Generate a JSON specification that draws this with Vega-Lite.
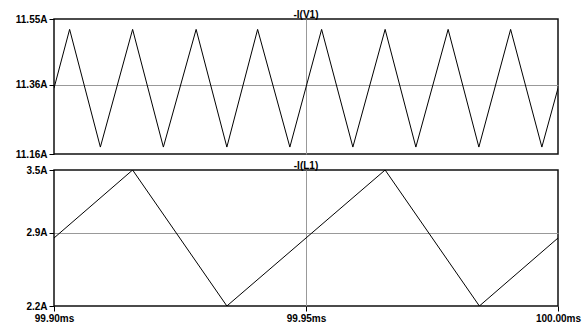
{
  "$schema": "https://vega.github.io/schema/vega-lite/v6.json",
  "background": "white",
  "padding": {"left": 14, "top": 9, "right": 5, "bottom": 0},
  "spacing": 0,
  "config": {
    "view": {"stroke": "#111", "strokeWidth": 1.5},
    "font": "Liberation Sans",
    "axis": {
      "labelFont": "Liberation Sans",
      "labelFontWeight": "bold",
      "labelFontSize": 10,
      "labelColor": "#000",
      "tickColor": "#000",
      "tickSize": 5,
      "domain": false,
      "title": null,
      "gridColor": "#999",
      "gridWidth": 1
    },
    "title": {"font": "Liberation Sans", "fontSize": 10, "fontWeight": "bold", "color": "#000", "anchor": "middle", "offset": -6}
  },
  "datasets": {
    "v1": [
      {"t": 99.9000, "i": 11.35},
      {"t": 99.9031, "i": 11.52},
      {"t": 99.9092, "i": 11.18},
      {"t": 99.9156, "i": 11.52},
      {"t": 99.9217, "i": 11.18},
      {"t": 99.9282, "i": 11.52},
      {"t": 99.9343, "i": 11.18},
      {"t": 99.9404, "i": 11.52},
      {"t": 99.9468, "i": 11.18},
      {"t": 99.9531, "i": 11.52},
      {"t": 99.9593, "i": 11.18},
      {"t": 99.9657, "i": 11.52},
      {"t": 99.9718, "i": 11.18},
      {"t": 99.9782, "i": 11.52},
      {"t": 99.9843, "i": 11.18},
      {"t": 99.9906, "i": 11.52},
      {"t": 99.9968, "i": 11.18},
      {"t": 100.0000, "i": 11.35}
    ],
    "l1": [
      {"t": 99.9000, "i": 2.85},
      {"t": 99.9156, "i": 3.5},
      {"t": 99.9343, "i": 2.2},
      {"t": 99.9657, "i": 3.5},
      {"t": 99.9844, "i": 2.2},
      {"t": 100.0000, "i": 2.85}
    ]
  },
  "vconcat": [
    {
      "width": 504,
      "height": 135,
      "title": "-I(V1)",
      "data": {"name": "v1"},
      "mark": {"type": "line", "color": "#000", "strokeWidth": 1, "clip": true},
      "encoding": {
        "x": {
          "field": "t", "type": "quantitative",
          "scale": {"domain": [99.9, 100.0], "nice": false, "zero": false},
          "axis": {"values": [99.95], "labels": false, "ticks": false, "grid": true, "orient": "bottom", "minExtent": 0, "maxExtent": 0}
        },
        "y": {
          "field": "i", "type": "quantitative",
          "scale": {"domain": [11.16, 11.55], "nice": false, "zero": false},
          "axis": {
            "values": [11.16, 11.36, 11.55],
            "labelExpr": "format(datum.value, '.2f') + 'A'",
            "grid": true,
            "gridOpacity": {"condition": {"test": "abs(datum.value - 11.36) < 0.001", "value": 1}, "value": 0}
          }
        }
      }
    },
    {
      "width": 504,
      "height": 136,
      "title": "-I(L1)",
      "data": {"name": "l1"},
      "mark": {"type": "line", "color": "#000", "strokeWidth": 1, "clip": true},
      "encoding": {
        "x": {
          "field": "t", "type": "quantitative",
          "scale": {"domain": [99.9, 100.0], "nice": false, "zero": false},
          "axis": {
            "values": [99.9, 99.95, 100.0],
            "labelExpr": "format(datum.value, '.2f') + 'ms'",
            "labelFlush": false,
            "labelPadding": 2,
            "grid": true,
            "gridOpacity": {"condition": {"test": "abs(datum.value - 99.95) < 0.001", "value": 1}, "value": 0}
          }
        },
        "y": {
          "field": "i", "type": "quantitative",
          "scale": {"domain": [2.2, 3.5], "nice": false, "zero": false},
          "axis": {
            "values": [2.2, 2.9, 3.5],
            "labelExpr": "format(datum.value, '.1f') + 'A'",
            "grid": true,
            "gridOpacity": {"condition": {"test": "abs(datum.value - 2.9) < 0.001", "value": 1}, "value": 0}
          }
        }
      }
    }
  ]
}
